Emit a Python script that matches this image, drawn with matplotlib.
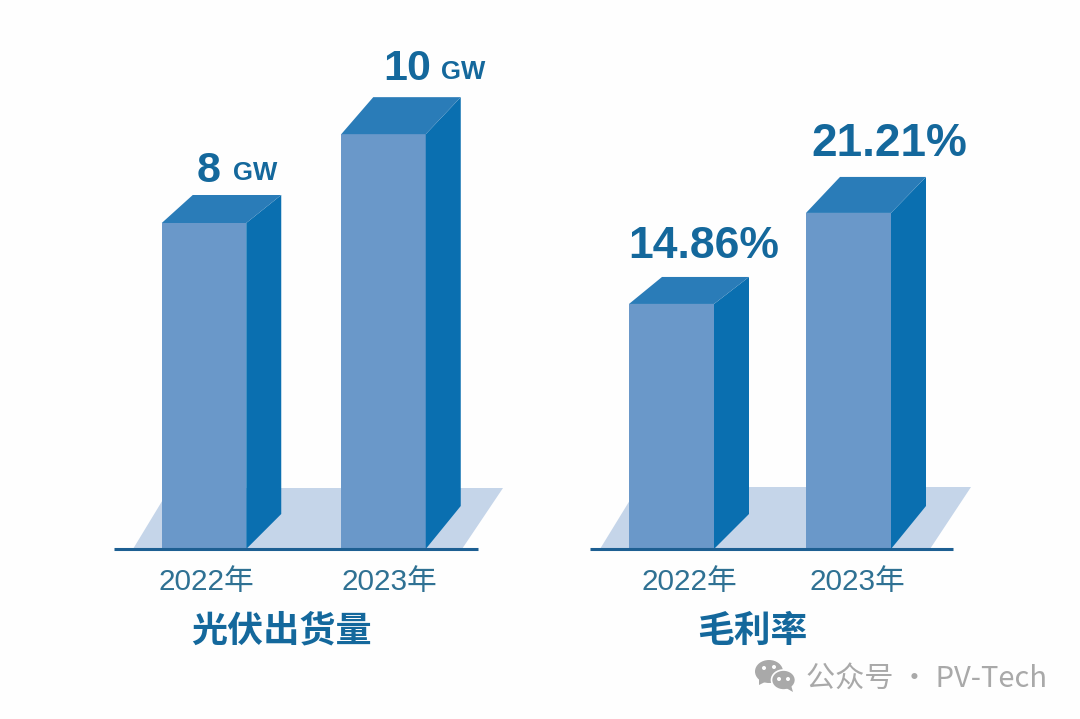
import matplotlib
matplotlib.use("Agg")
import matplotlib.pyplot as plt
from matplotlib.patches import Polygon, Ellipse

plt.rcParams['font.family'] = ['Liberation Sans', 'Noto Sans CJK SC', 'DejaVu Sans']

years = ['2022年', '2023年']
shipment_labels = ['8', '10']
shipment_unit = 'GW'
shipment_heights = [8.0, 10.18]   # bar heights as drawn in the picture
margin_labels = ['14.86%', '21.21%']
margin_heights = [14.86, 20.38]   # bar heights as drawn in the picture
title_left = '光伏出货量'
title_right = '毛利率'
watermark = '公众号 · PV-Tech'

W, H = 1080, 719
FRONT, SIDE, TOP = '#6a98c9', '#0a6fb0', '#2a7cb8'
FLOOR = '#c5d5e9'
LINE = '#1d5f92'
YEAR_C, TITLE_C, VALUE_C = '#2f7193', '#14689c', '#14689c'
BG = '#fefefe'

fig = plt.figure(figsize=(W / 100, H / 100), dpi=100, facecolor=BG)
overlay = fig.add_axes([0, 0, 1, 1])
overlay.set_xlim(0, W)
overlay.set_ylim(H, 0)
overlay.axis('off')


def panel(px_left, px_right, base, top, centres, bar_w, heights, px_per_unit,
          depth, floor, tick_px):
    ax = fig.add_axes([px_left / W, 1 - base / H, (px_right - px_left) / W, (base - top) / H])
    ax.patch.set_alpha(0)
    step = centres[1] - centres[0]
    xs = [0, 1]
    ax.set_xlim((px_left - centres[0]) / step, (px_right - centres[0]) / step)
    ax.set_ylim(0, (base - top) / px_per_unit)
    ax.bar(xs, heights, width=bar_w / step, color=FRONT, zorder=3)
    for s in ('top', 'left', 'right'):
        ax.spines[s].set_visible(False)
    ax.spines['bottom'].set_color(LINE)
    ax.spines['bottom'].set_linewidth(2.2)
    ax.spines['bottom'].set_capstyle('butt')
    ax.spines['bottom'].set_zorder(5)
    ax.set_yticks([])
    ax.set_xticks([(p - centres[0]) / step for p in tick_px])
    ax.set_xticklabels(years, fontsize=21.4, color=YEAR_C)
    ax.tick_params(axis='x', length=0, pad=14)
    overlay.add_patch(Polygon(floor, closed=True, fc=FLOOR, ec='none', zorder=1))
    ax.set_zorder(2)
    for x, h, (dx_top, dy_top, dx, dy_bot, dy_back) in zip(xs, heights, depth):
        l = x - bar_w / step / 2
        r = x + bar_w / step / 2
        ux, uy = 1 / step, 1 / px_per_unit
        ax.add_patch(Polygon([(r, 0), (r + dx * ux, dy_bot * uy), (r + dx * ux, h + dy_back * uy), (r, h)],
                             closed=True, fc=SIDE, ec='none', zorder=3))
        ax.add_patch(Polygon([(l, h), (r, h), (r + dx * ux, h + dy_back * uy), (l + dx_top * ux, h + dy_top * uy)],
                             closed=True, fc=TOP, ec='none', zorder=3))
    return ax


left = panel(114, 478, 549, 60, (204, 383.5), 84.5, shipment_heights, 40.75,
             [(31, 28, 35, 35, 28), (32, 37, 35, 43, 37)],
             [(133, 549), (170, 488), (503, 488), (462, 549)], (206, 389.5))
right = panel(590, 953, 549, 100, (671.5, 848.5), 85, margin_heights, 16.49,
              [(33, 27, 35, 35, 27), (34, 36, 35, 43, 36)],
              [(600, 549), (638, 487), (971, 487), (930, 549)], (689, 857.5))

for (x, y, num) in zip((197, 383), (171, 69), shipment_labels):
    overlay.text(x, y, num, fontsize=31, fontweight='bold', color=VALUE_C, ha='left', va='center', zorder=6)
for (x, y) in ((233, 173), (441, 72)):
    overlay.text(x, y, shipment_unit, fontsize=18.5, fontweight='bold', color=VALUE_C, ha='left', va='center', zorder=6)
for (x, y, s, fs) in zip((704, 889.5), (246, 144), margin_labels, (32, 33)):
    overlay.text(x, y, s, fontsize=fs, fontweight='bold', color=VALUE_C, ha='center', va='center', zorder=6)

overlay.text(281.5, 631, title_left, fontsize=26, fontweight='bold', color=TITLE_C, ha='center', va='center', zorder=6,
             family=['Noto Sans CJK SC'])
overlay.text(752.5, 631, title_right, fontsize=26.5, fontweight='bold', color=TITLE_C, ha='center', va='center', zorder=6,
             family=['Noto Sans CJK SC'])

# watermark
G = '#a9a9a9'
overlay.add_patch(Ellipse((769, 671.5), 28, 23, fc=G, ec='none', zorder=6))
overlay.add_patch(Polygon([(759, 678), (759, 685), (767, 681)], fc=G, ec='none', zorder=6))
overlay.add_patch(Ellipse((783.5, 680), 24, 20, fc=G, ec=BG, lw=1.2, zorder=7))
overlay.add_patch(Polygon([(786, 688), (793, 692), (791, 685)], fc=G, ec='none', zorder=7))
for ex, ey, z in ((764, 668, 8), (774, 667, 8), (779, 679, 9), (788, 679, 9)):
    overlay.add_patch(Ellipse((ex, ey), 4, 4, fc=BG, ec='none', zorder=z))
overlay.text(806, 680, watermark, fontsize=21, color=G, ha='left', va='center', zorder=6,
             family=['Noto Sans CJK SC', 'DejaVu Sans'])

fig.savefig('out.png', dpi=100, facecolor=fig.get_facecolor())
